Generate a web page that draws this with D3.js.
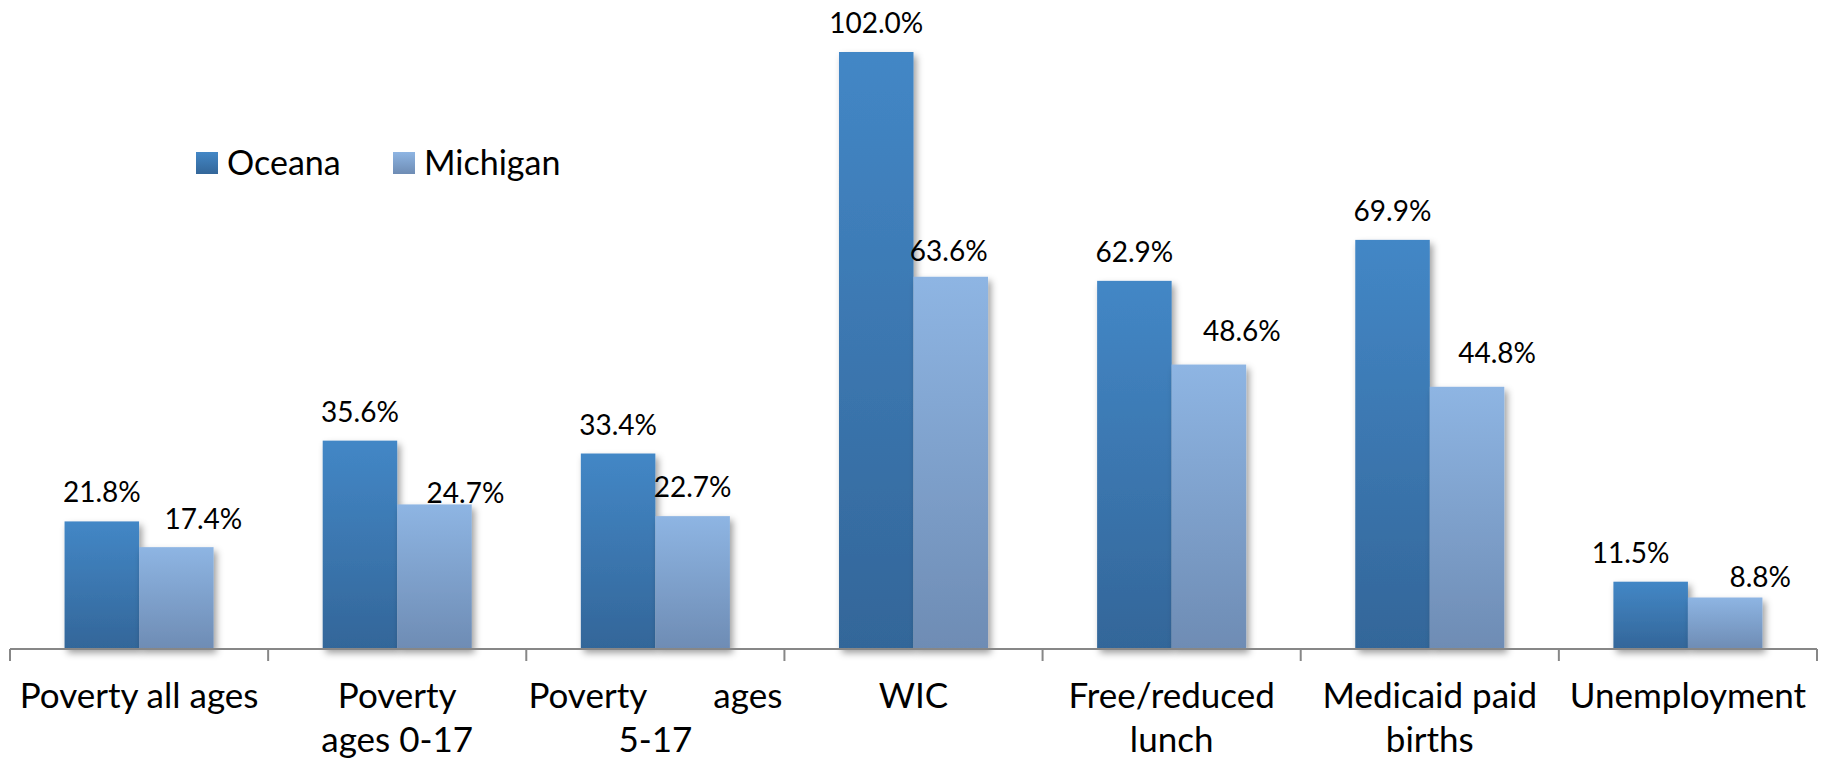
<!DOCTYPE html>
<html>
<head>
<meta charset="utf-8">
<script src="https://cdn.jsdelivr.net/npm/d3@7"></script>
<style>
  html, body { margin: 0; padding: 0; background: #ffffff; }
  svg { display: block; }
  text { font-family: Lato, "Open Sans", sans-serif; fill: #000; }
</style>
</head>
<body>
<svg id="chart" width="1822" height="760"></svg>
<script>
// ---- data ----
const categories = ["Poverty all ages", "Poverty ages 0-17", "Poverty ages 5-17", "WIC", "Free/reduced lunch", "Medicaid paid births", "Unemployment"];
const categoryLines = [
  ["Poverty all ages"],
  ["Poverty", "ages 0-17"],
  ["Poverty ages", "5-17"],
  ["WIC"],
  ["Free/reduced", "lunch"],
  ["Medicaid paid", "births"],
  ["Unemployment"]
];
const seriesNames = ["Oceana", "Michigan"];
const oceanaValues = [21.8, 35.6, 33.4, 102.0, 62.9, 69.9, 11.5];
const michiganValues = [17.4, 24.7, 22.7, 63.6, 48.6, 44.8, 8.8];

// ---- manual label nudges (as in the original layout) ----
const labelNudge = {
  Oceana:   { dx: [0, 0, 0, 0, 0, 0, -20], dy: [0, 0, 0, 0, 0, 0, 0] },
  Michigan: { dx: [27, 31, 0, -2, 33, 30, 35], dy: [1, 18, 0, 3, -5, -5, 9] }
};

const series = [
  { name: "Oceana", values: oceanaValues, grad: "gOceana" },
  { name: "Michigan", values: michiganValues, grad: "gMichigan" }
];

const svg = d3.select("#chart");
const defs = svg.append("defs");

function addGrad(id, top, bottom) {
  const g = defs.append("linearGradient").attr("id", id)
    .attr("x1", 0).attr("y1", 0).attr("x2", 0).attr("y2", 1);
  g.append("stop").attr("offset", "0%").attr("stop-color", top);
  g.append("stop").attr("offset", "100%").attr("stop-color", bottom);
}
addGrad("gOceana", "#4387C6", "#336699");
addGrad("gMichigan", "#8EB5E3", "#6E8CB4");

const f = defs.append("filter").attr("id", "shadow")
  .attr("x", "-20%").attr("y", "-20%").attr("width", "150%").attr("height", "150%");
f.append("feDropShadow").attr("dx", 3).attr("dy", 4).attr("stdDeviation", 3.5)
  .attr("flood-color", "#000").attr("flood-opacity", 0.38);

// ---- scales ----
const axisY = 649;
const x = d3.scaleBand().domain(categories).range([10, 1817]).paddingInner(0).paddingOuter(0);
const xs = d3.scaleBand().domain(seriesNames).range([0, x.bandwidth()]).paddingInner(0).paddingOuter(0.732);
const y = d3.scaleLinear().domain([0, d3.max(oceanaValues.concat(michiganValues))]).range([axisY, 52]);

// ---- bars ----
const groups = svg.append("g").selectAll("g.cat")
  .data(categories).join("g")
  .attr("class", "cat")
  .attr("transform", d => `translate(${x(d)},0)`);

series.forEach(s => {
  groups.append("rect")
    .attr("x", xs(s.name))
    .attr("width", xs.bandwidth())
    .attr("y", (d, i) => y(s.values[i]))
    .attr("height", (d, i) => axisY - y(s.values[i]))
    .attr("fill", `url(#${s.grad})`)
    .attr("filter", "url(#shadow)");
});

// ---- axis ----
const axisG = svg.append("g");
const bounds = categories.map(c => x(c)).concat([x.range()[1]]);
axisG.append("line")
  .attr("x1", x.range()[0]).attr("x2", x.range()[1])
  .attr("y1", axisY).attr("y2", axisY)
  .attr("stroke", "#878787").attr("stroke-width", 2);
axisG.selectAll("line.tick").data(bounds).join("line")
  .attr("class", "tick")
  .attr("x1", d => d).attr("x2", d => d)
  .attr("y1", axisY).attr("y2", axisY + 12)
  .attr("stroke", "#878787").attr("stroke-width", 2);

// ---- category labels ----
groups.each(function(d, i) {
  const t = d3.select(this).append("text")
    .attr("text-anchor", "middle")
    .style("font-size", "35px");
  categoryLines[i].forEach((line, li) => {
    const ts = t.append("tspan")
      .attr("x", x.bandwidth() / 2)
      .attr("y", 708 + li * 44)
      .text(line);
    if (i === 2 && li === 0) ts.attr("word-spacing", "58px");
  });
});

// ---- value labels ----
series.forEach(s => {
  groups.append("text")
    .attr("text-anchor", "middle")
    .style("font-size", "28px")
    .attr("x", (d, i) => xs(s.name) + xs.bandwidth() / 2 + labelNudge[s.name].dx[i])
    .attr("y", (d, i) => y(s.values[i]) - 19 + labelNudge[s.name].dy[i])
    .text((d, i) => d3.format(".1f")(s.values[i]) + "%");
});

// ---- legend ----
const legendX = [196, 393];
const legend = svg.append("g").selectAll("g").data(series).join("g")
  .attr("transform", (d, i) => `translate(${legendX[i]},152)`);
legend.append("rect").attr("width", 22).attr("height", 22)
  .attr("fill", d => `url(#${d.grad})`);
legend.append("text").attr("x", 31).attr("y", 23)
  .style("font-size", "34px").text(d => d.name);
</script>
</body>
</html>
